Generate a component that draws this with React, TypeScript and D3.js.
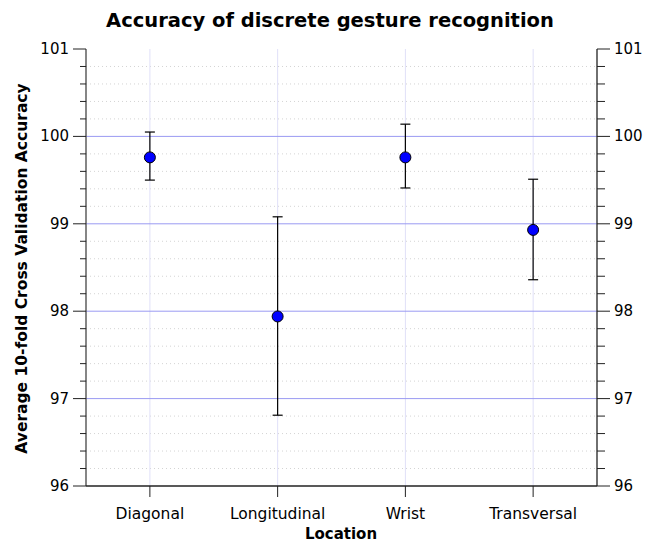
import React from 'react';
import * as d3 from 'd3';

const categories = ['Diagonal', 'Longitudinal', 'Wrist', 'Transversal'];
const means = [99.76, 97.94, 99.76, 98.93];
const lower = [99.5, 96.81, 99.41, 98.36];
const upper = [100.05, 99.08, 100.14, 99.51];
const yTicks = [96, 97, 98, 99, 100, 101];

const W = 656;
const H = 544;
const m = { top: 49, right: 59, bottom: 58, left: 86 };
const font = 'DejaVu Sans, sans-serif';

export default function App() {
	const iw = W - m.left - m.right;
	const ih = H - m.top - m.bottom;
	const x = d3.scaleLinear().domain([0.5, 4.5]).range([0, iw]);
	const y = d3.scaleLinear().domain([96, 101]).range([ih, 0]);
	const minor = d3.range(96, 101.001, 0.2).map((v) => +v.toFixed(1)).filter((v) => !yTicks.includes(v));

	return (
		<svg width={W} height={H} style={{ position: 'absolute', left: 0, top: 0 }} fontFamily={font}>
			<text x={330} y={27} textAnchor="middle" fontSize={19.5} fontWeight="bold">
				Accuracy of discrete gesture recognition
			</text>
			<g transform={`translate(${m.left},${m.top})`}>
				{/* grid */}
				{minor.map((v) => (
					<line key={'mg' + v} x1={0} x2={iw} y1={y(v)} y2={y(v)} stroke="#d4d4d4" strokeDasharray="1,3" />
				))}
				{categories.map((c, i) => (
					<line key={'vg' + c} x1={x(i + 1)} x2={x(i + 1)} y1={0} y2={ih} stroke="#e0e0f8" />
				))}
				{yTicks.slice(1, -1).map((v) => (
					<line key={'g' + v} x1={0} x2={iw} y1={y(v)} y2={y(v)} stroke="#9a9af2" />
				))}
				{/* axes */}
				<line x1={0} x2={0} y1={0} y2={ih} stroke="#444" strokeWidth={1.3} />
				<line x1={iw} x2={iw} y1={0} y2={ih} stroke="#222" strokeWidth={1.3} />
				<line x1={0} x2={iw} y1={ih} y2={ih} stroke="#222" strokeWidth={1.3} />
				{yTicks.map((v) => (
					<g key={'t' + v}>
						<line x1={-13} x2={0} y1={y(v)} y2={y(v)} stroke="#222" />
						<line x1={iw} x2={iw + 13} y1={y(v)} y2={y(v)} stroke="#222" />
						<text x={-17} y={y(v) + 5} textAnchor="end" fontSize={15}>{v}</text>
						<text x={iw + 17} y={y(v) + 5} textAnchor="start" fontSize={15}>{v}</text>
					</g>
				))}
				{minor.map((v) => (
					<g key={'mt' + v}>
						<line x1={-6} x2={0} y1={y(v)} y2={y(v)} stroke="#222" />
						<line x1={iw} x2={iw + 8} y1={y(v)} y2={y(v)} stroke="#222" />
					</g>
				))}
				{categories.map((c, i) => (
					<g key={'xt' + c}>
						<line x1={x(i + 1)} x2={x(i + 1)} y1={ih} y2={ih + 11} stroke="#222" />
						<text x={x(i + 1)} y={ih + 33} textAnchor="middle" fontSize={15.5}>{c}</text>
					</g>
				))}
				{/* error bars */}
				{categories.map((c, i) => (
					<g key={'e' + c} stroke="#000" strokeWidth={1.2}>
						<line x1={x(i + 1)} x2={x(i + 1)} y1={y(lower[i])} y2={y(upper[i])} />
						<line x1={x(i + 1) - 5} x2={x(i + 1) + 5} y1={y(lower[i])} y2={y(lower[i])} />
						<line x1={x(i + 1) - 5} x2={x(i + 1) + 5} y1={y(upper[i])} y2={y(upper[i])} />
					</g>
				))}
				{means.map((v, i) => (
					<circle key={'p' + i} cx={x(i + 1)} cy={y(v)} r={5.5} fill="#0000ff" stroke="#000" strokeWidth={1} />
				))}
			</g>
			<text x={341} y={539} textAnchor="middle" fontSize={15} fontWeight="bold">Location</text>
			<text transform={`translate(27,${m.top + ih / 2 + 1}) rotate(-90)`} textAnchor="middle" fontSize={15.5} fontWeight="bold">
				Average 10-fold Cross Validation Accuracy
			</text>
		</svg>
	);
}
